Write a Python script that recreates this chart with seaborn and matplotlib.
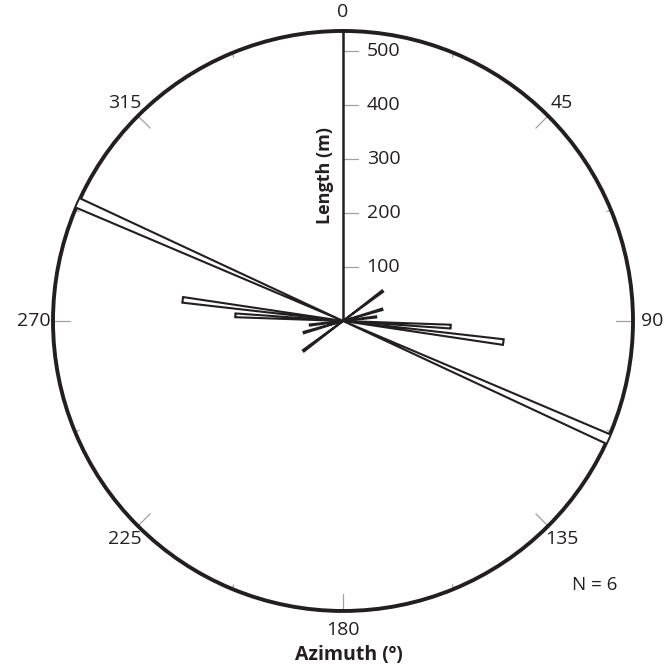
import numpy as np
import pandas as pd
import matplotlib
matplotlib.use("Agg")
import matplotlib.pyplot as plt
import seaborn as sns

# Lineament orientations (azimuth, degrees) and their lengths (m)
azimuth_deg = [53, 73.5, 83, 93, 97.5, 114]
length_m = [92, 76, 62, 200, 300, 540]
radial_ticks = [100, 200, 300, 400, 500]
azimuth_ticks = [0, 45, 90, 135, 180, 225, 270, 315]
minor_azimuths = [22.5, 67.5, 112.5, 157.5, 202.5, 247.5, 292.5, 337.5]

sns.set_theme(style="white")
plt.rcParams["font.family"] = ["Open Sans", "DejaVu Sans"]

INK = "#231f20"
GREY = "#a0a0a0"
R_MAX = 538
BAR_WIDTH = np.deg2rad(2.0)

# Each lineament is plotted in both directions (axial data)
df = pd.DataFrame({"azimuth": azimuth_deg, "length": length_m})
rose = pd.concat([df, df.assign(azimuth=df["azimuth"] + 180)], ignore_index=True)

fig = plt.figure(figsize=(6.65, 6.70), dpi=100)
ax = fig.add_axes([0.0797, 0.0881, 0.8722, 0.8657], projection="polar")
ax.set_theta_zero_location("N")
ax.set_theta_direction(-1)
ax.set_ylim(0, R_MAX)
ax.grid(False)
ax.set_xticks([])
ax.set_yticks([])
ax.spines["polar"].set_linewidth(2.8)
ax.spines["polar"].set_color(INK)
ax.set_facecolor("white")

ax.bar(np.deg2rad(rose["azimuth"]), rose["length"], width=BAR_WIDTH, bottom=0,
       facecolor="white", edgecolor=INK, linewidth=1.5, zorder=3)

# Azimuth ticks on the rim
for a in azimuth_ticks:
    t = np.deg2rad(a)
    ax.plot([t, t], [R_MAX - 32, R_MAX], color=GREY, lw=0.9, zorder=2, clip_on=False)
    ax.text(t, R_MAX * 1.065, f"{a}", ha="center", va="center",
            fontsize=14, color=INK, clip_on=False)
for a in minor_azimuths:
    t = np.deg2rad(a)
    ax.plot([t, t], [R_MAX - 8, R_MAX], color=GREY, lw=0.9, zorder=2, clip_on=False)

# Radial length scale drawn along north
ax.plot([0, 0], [0, R_MAX], color=INK, lw=1.8, zorder=4, solid_capstyle="butt")
tick_len = 28
for r in radial_ticks:
    t_end = np.arctan2(tick_len, r)
    ax.plot([0, t_end], [r, np.hypot(tick_len, r)], color=GREY, lw=0.9, zorder=2)
    ax.annotate(f"{r}", xy=(0, r), xytext=(17, 0), textcoords="offset points",
                ha="left", va="center", fontsize=14, color=INK)

ax.annotate("Length (m)", xy=(0, 270), xytext=(-13, 0), textcoords="offset points",
            ha="center", va="center", rotation=90, fontsize=13,
            fontweight="bold", color=INK)

fig.text(349 / 665, 1 - 655 / 670, "Azimuth (º)", ha="center", va="center",
         fontsize=14, fontweight="bold", color=INK)
fig.text(595 / 665, 1 - 585 / 670, "N = 6", ha="center", va="center",
         fontsize=13.5, color=INK)

fig.savefig("out.png", dpi=100, facecolor="white")
